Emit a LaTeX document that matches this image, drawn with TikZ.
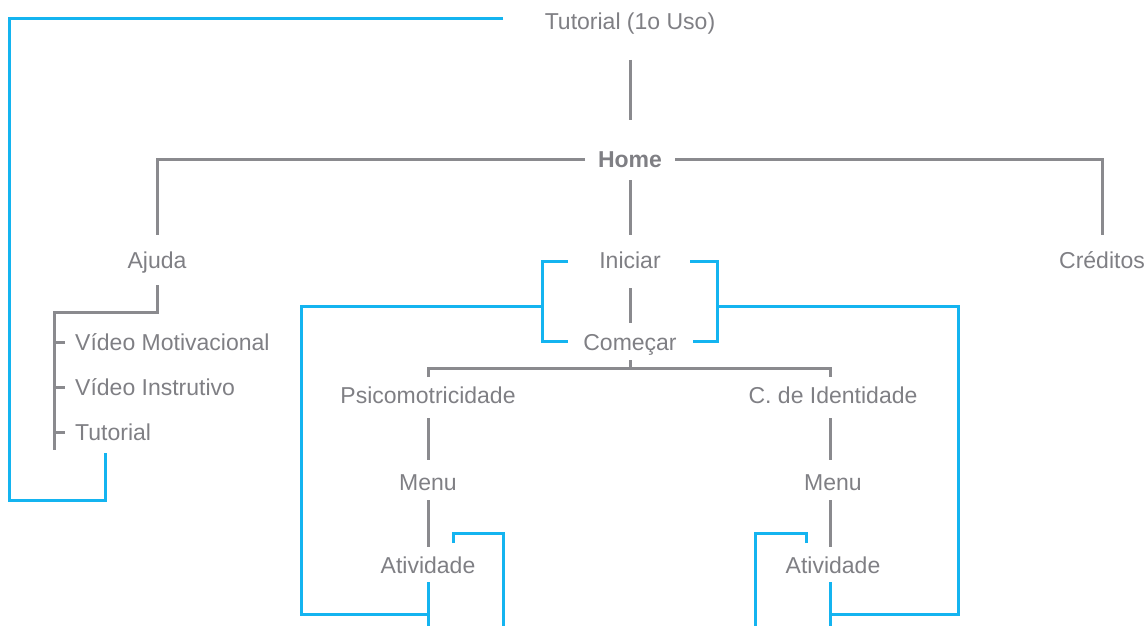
\documentclass[tikz,border=0pt]{standalone}
\usepackage{fontspec}
\setmainfont{Liberation Sans}
\definecolor{txtgray}{HTML}{7F7F84}
\definecolor{lngray}{HTML}{8A8A8E}
\definecolor{skyblue}{HTML}{14B4F0}
\begin{document}
\begin{tikzpicture}[x=1pt,y=-1pt,
  lbl/.style={anchor=base,inner sep=0pt,text=txtgray,font=\fontsize{23}{26}\selectfont},
  lblleft/.style={lbl,anchor=base west},
  gline/.style={draw=lngray,line width=3pt},
  bline/.style={draw=skyblue,line width=3pt}]
\useasboundingbox (0,0) rectangle (1148,626);
% texts
\node[lbl] (tut1) at (630,30) {Tutorial (1o Uso)};
\node[lbl,font=\fontsize{23}{26}\selectfont\bfseries] (home) at (630,167) {Home};
\node[lbl] (ajuda) at (157,268) {Ajuda};
\node[lbl] (iniciar) at (630,268) {Iniciar};
\node[lbl] (creditos) at (1102,268) {Créditos};
\node[lbl] (comecar) at (630,350) {Começar};
\node[lblleft] (vm) at (75,350) {Vídeo Motivacional};
\node[lblleft] (vi) at (75,395) {Vídeo Instrutivo};
\node[lblleft] (tut2) at (75,440) {Tutorial};
\node[lbl] (psico) at (428,403) {Psicomotricidade};
\node[lbl] (ident) at (833,403) {C. de Identidade};
\node[lbl] (menu1) at (428,490) {Menu};
\node[lbl] (menu2) at (833,490) {Menu};
\node[lbl] (ativ1) at (428,573) {Atividade};
\node[lbl] (ativ2) at (833,573) {Atividade};
% coordinates
\coordinate (tutL) at (503,19);
\coordinate (tutR) at (105,453);
\coordinate (homeL) at (585,159);
\coordinate (homeR) at (675,159);
\coordinate (ajT) at (157,235);
\coordinate (crT) at (1102,235);
\coordinate (ajB) at (157,285);
\coordinate (trunk) at (54,450);
\coordinate (iniL1) at (568,261);
\coordinate (iniL2) at (568,341);
\coordinate (iniR1) at (690,261);
\coordinate (iniR2) at (693,341);
\coordinate (psT) at (428,377);
\coordinate (idT) at (830,377);
\coordinate (hub) at (630,368);
\coordinate (a1B) at (428,582);
\coordinate (a2B) at (830,582);
\coordinate (bot1) at (428,626);
\coordinate (bot2) at (830,626);
\coordinate (h1) at (453,543);
\coordinate (h1b) at (503,626);
\coordinate (h2) at (806,543);
\coordinate (h2b) at (755,626);
% gray connectors
\draw[gline] (630,60) -- (630,120);
\draw[gline] (homeL) -- (157,159) -- (ajT);
\draw[gline] (homeR) -- (1102,159) -- (crT);
\draw[gline] (630,180) -- (630,235);
\draw[gline] (ajB) -- (157,312) -- (54,312) -- (trunk);
\draw[gline] (54,342) -- (65,342);
\draw[gline] (54,387) -- (65,387);
\draw[gline] (54,432) -- (65,432);
\draw[gline] (630,288) -- (630,323);
\draw[gline] (630,360) -- (hub);
\draw[gline] (psT) -- (428,368) -- (830,368) -- (idT);
\draw[gline] (428,418) -- (428,460);
\draw[gline] (428,500) -- (428,547);
\draw[gline] (830,418) -- (830,460);
\draw[gline] (830,500) -- (830,547);
% blue connectors
\draw[bline] (tutL) -- (9,19) -- (9,500) -- (105,500) -- (tutR);
\draw[bline] (iniL1) -- (542,261) -- (542,341) -- (iniL2);
\draw[bline] (iniR1) -- (717,261) -- (717,341) -- (iniR2);
\draw[bline] (542,306) -- (301,306) -- (301,614) -- (428,614);
\draw[bline] (a1B) -- (bot1);
\draw[bline] (717,306) -- (958,306) -- (958,614) -- (830,614);
\draw[bline] (a2B) -- (bot2);
\draw[bline] (h1) -- (453,533) -- (503,533) -- (h1b);
\draw[bline] (h2) -- (806,533) -- (755,533) -- (h2b);
\end{tikzpicture}
\end{document}
